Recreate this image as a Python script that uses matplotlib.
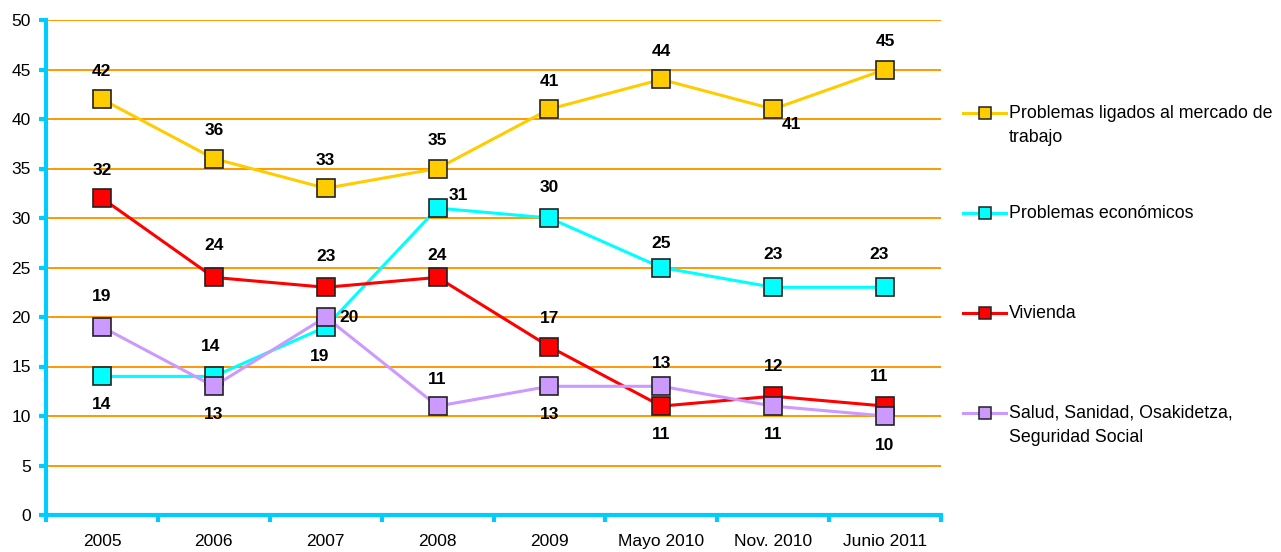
import matplotlib
matplotlib.use("Agg")
import matplotlib.pyplot as plt
from matplotlib.lines import Line2D

categories = ["2005", "2006", "2007", "2008", "2009", "Mayo 2010", "Nov. 2010", "Junio 2011"]
mercado = [42, 36, 33, 35, 41, 44, 41, 45]
economicos = [14, 14, 19, 31, 30, 25, 23, 23]
vivienda = [32, 24, 23, 24, 17, 11, 12, 11]
salud = [19, 13, 20, 11, 13, 13, 11, 10]
labels = ["Problemas ligados al mercado de\ntrabajo", "Problemas económicos", "Vivienda",
          "Salud, Sanidad, Osakidetza,\nSeguridad Social"]

plt.rcParams['font.family'] = ['Liberation Sans', 'DejaVu Sans']

W, H = 1281, 552
fig = plt.figure(figsize=(W / 100, H / 100), dpi=100)
ax = fig.add_axes([46 / W, 37 / H, (941 - 46) / W, (515 - 20) / H])

x = list(range(len(categories)))
series = [
    (mercado, "#FFCC00", "#FFCC00"),
    (economicos, "#00FFFF", "#00FFFF"),
    (vivienda, "#FF0000", "#FF0000"),
    (salud, "#CC99FF", "#CC99FF"),
]
for vals, lc, fc in series:
    ax.plot(x, vals, color=lc, lw=2.2, marker='s', markersize=12.5,
            markerfacecolor=fc, markeredgecolor='#222222', markeredgewidth=1.2, zorder=3)

# label offsets in pixels (dx, dy)
offs = {
    0: [(0, 28), (0, 28), (0, 28), (0, 28), (0, 28), (0, 28), (18, -15), (0, 28)],
    1: [(0, -28), (-3, 30), (-6, -30), (21, 13), (0, 30), (0, 24), (0, 33), (-6, 33)],
    2: [(0, 28), (0, 32), (0, 31), (0, 22), (0, 28), (0, -28), (0, 30), (-6, 30)],
    3: [(0, 30), (0, -28), (23, 0), (0, 27), (0, -28), (0, 23), (0, -28), (0, -30)],
}
for i, (vals, lc, fc) in enumerate(series):
    for j, v in enumerate(vals):
        dx, dy = offs[i][j]
        ax.annotate(str(v), (j, v), xytext=(dx, dy), textcoords='offset pixels',
                    ha='center', va='center', fontsize=12.5, fontweight='bold', zorder=5)

ax.set_xlim(-0.5, len(categories) - 0.5)
ax.set_ylim(0, 50)
ax.set_yticks(range(0, 51, 5))
ax.set_xticks(x)
ax.set_xticklabels(categories)
ax.set_xticks([k + 0.5 for k in range(-1, len(categories))], minor=True)
for yv in range(5, 51, 5):
    ax.axhline(yv, color='#FF9900', lw=1.4, zorder=1)

axc = '#00CCFF'
for s in ['top', 'right']:
    ax.spines[s].set_visible(False)
for s in ['left', 'bottom']:
    ax.spines[s].set_color(axc)
    ax.spines[s].set_linewidth(3)
ax.tick_params(axis='y', which='major', color=axc, width=3, length=5, labelsize=12.5, pad=6)
ax.tick_params(axis='x', which='major', length=0, labelsize=12.5, pad=14)
ax.tick_params(axis='x', which='minor', color=axc, width=3, length=5)

# legend drawn manually
ys = [113, 213, 313, 413]
for (vals, lc, fc), lab, yy in zip(series, labels, ys):
    fy = 1 - yy / H
    fig.add_artist(Line2D([963 / W, 1006 / W], [fy, fy], color=lc, lw=2.2,
                          transform=fig.transFigure))
    fig.add_artist(Line2D([985 / W], [fy], marker='s', markersize=8.5, markerfacecolor=fc,
                          markeredgecolor='#222222', markeredgewidth=1.1, transform=fig.transFigure))
    for k, part in enumerate(lab.split("\n")):
        fig.text(1009 / W, 1 - (yy + 5 + 24 * k) / H, part, ha='left', va='baseline',
                 fontsize=12.8)

fig.savefig("out.png", dpi=100)
